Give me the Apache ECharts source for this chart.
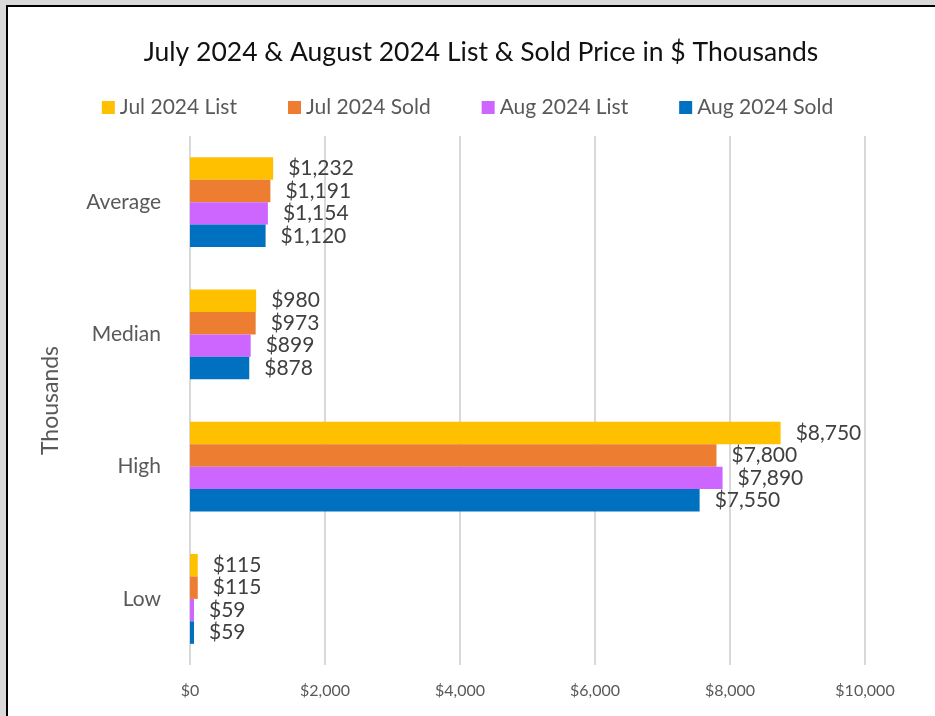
<!DOCTYPE html>
<html>
<head>
<meta charset="utf-8">
<script src="https://cdn.jsdelivr.net/npm/echarts@6/dist/echarts.min.js"></script>
<style>
  html, body { margin: 0; padding: 0; background: #d9d9d9; }
  #frame { position: absolute; left: 6px; top: 5px; width: 940px; height: 720px;
           background: #fff; border-left: 2px solid #000; border-top: 2px solid #000; }
  #chart { position: absolute; left: 0; top: 0; width: 935px; height: 716px; }
</style>
</head>
<body>
<div id="frame"></div>
<div id="chart"></div>
<script>
const categories = ['Average', 'Median', 'High', 'Low'];
const julList = [1232, 980, 8750, 115];
const julSold = [1191, 973, 7800, 115];
const augList = [1154, 899, 7890, 59];
const augSold = [1120, 878, 7550, 59];
const seriesNames = ['Jul 2024 List', 'Jul 2024 Sold', 'Aug 2024 List', 'Aug 2024 Sold'];

const font = 'Lato, "Open Sans", sans-serif';
const chart = echarts.init(document.getElementById('chart'));

const seriesLabel = {
    show: true,
    position: 'right',
    distance: 15,
    color: '#404040',
    fontSize: 21,
    fontFamily: font,
    formatter: p => '$' + p.value.toLocaleString('en-US')
};

const option = {
    backgroundColor: 'transparent',
    color: ['#FFC000', '#ED7D31', '#CC66FF', '#0070C0'],
    title: {
        text: 'July 2024 & August 2024 List & Sold Price in $ Thousands',
        left: 476,
        textAlign: 'center',
        top: 34,
        textStyle: { color: '#111', fontSize: 26.5, fontWeight: 'normal', fontFamily: font }
    },
    legend: {
        data: seriesNames,
        top: 92,
        left: 'center',
        itemWidth: 13,
        itemHeight: 13,
        itemGap: 51,
        icon: 'rect',
        textStyle: { color: '#595959', fontSize: 21, fontFamily: font }
    },
    grid: {
        left: 190,
        right: 70,
        top: 136,
        bottom: 51
    },
    xAxis: {
        type: 'value',
        min: 0,
        max: 10000,
        interval: 2000,
        axisLine: { show: false },
        axisTick: { show: false },
        axisLabel: {
            color: '#595959',
            fontSize: 16,
            fontFamily: font,
            margin: 18,
            formatter: v => '$' + v.toLocaleString('en-US')
        },
        splitLine: { show: true, lineStyle: { color: '#d9d9d9', width: 2 } }
    },
    yAxis: {
        type: 'category',
        inverse: true,
        data: categories,
        name: 'Thousands',
        nameLocation: 'middle',
        nameGap: 128,
        nameTextStyle: { color: '#595959', fontSize: 23, fontFamily: font },
        axisLine: { show: false },
        axisTick: { show: false },
        axisLabel: { color: '#595959', fontSize: 21, fontFamily: font, margin: 29 }
    },
    series: [
        { name: seriesNames[0], type: 'bar', data: julList, label: seriesLabel, barGap: '0%', barCategoryGap: '32%' },
        { name: seriesNames[1], type: 'bar', data: julSold, label: seriesLabel, barGap: '0%', barCategoryGap: '32%' },
        { name: seriesNames[2], type: 'bar', data: augList, label: seriesLabel, barGap: '0%', barCategoryGap: '32%' },
        { name: seriesNames[3], type: 'bar', data: augSold, label: seriesLabel, barGap: '0%', barCategoryGap: '32%' }
    ]
};

chart.setOption(option);

window.addEventListener('resize', _ => {
    chart.resize();
});
</script>
</body>
</html>
